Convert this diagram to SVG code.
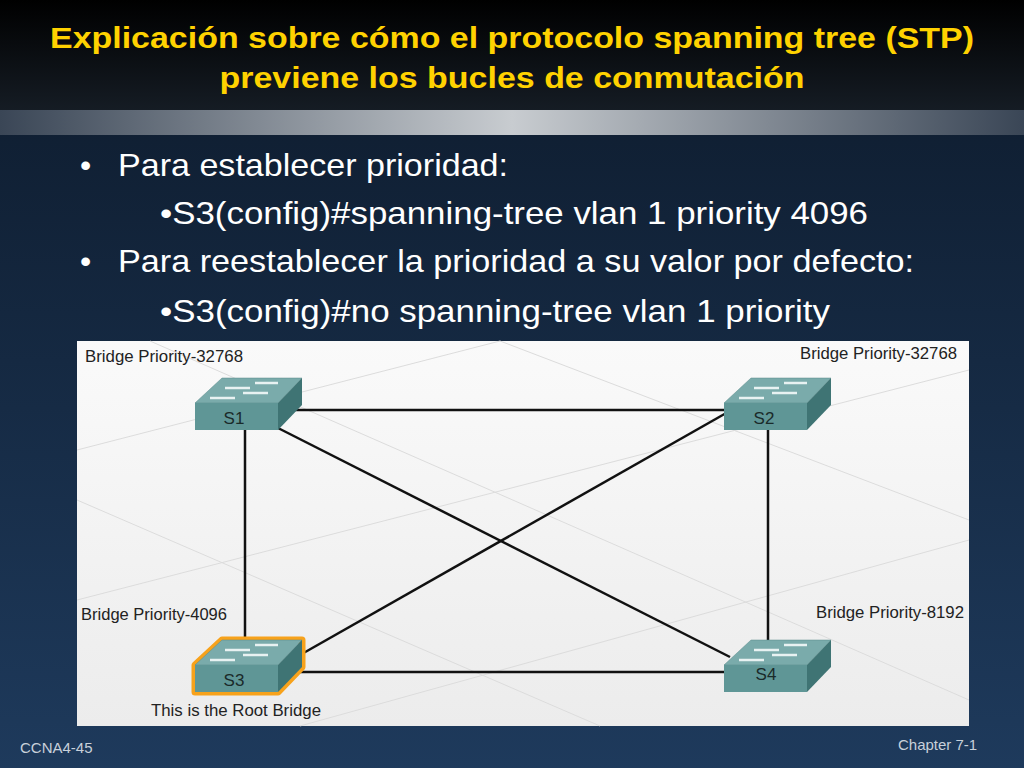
<svg xmlns="http://www.w3.org/2000/svg" width="1024" height="768" viewBox="0 0 1024 768">
<defs>
<linearGradient id="bg" x1="0" y1="0" x2="0" y2="1"><stop offset="0" stop-color="#0d1a2b"/><stop offset="1" stop-color="#1e3a5c"/></linearGradient>
<linearGradient id="hd" x1="0" y1="0" x2="0" y2="1"><stop offset="0" stop-color="#000"/><stop offset="1" stop-color="#151c24"/></linearGradient>
<linearGradient id="bar" x1="0" y1="0" x2="1" y2="0"><stop offset="0" stop-color="#3a4656"/><stop offset="0.5" stop-color="#c8ccd0"/><stop offset="1" stop-color="#3a4656"/></linearGradient>
<linearGradient id="panel" x1="0" y1="0" x2="0" y2="1"><stop offset="0" stop-color="#fafafa"/><stop offset="1" stop-color="#ececec"/></linearGradient>
<g id="sw">
<path d="M0,25 L27,0 L107,0 L83,25 Z" fill="#7aabab" stroke="#5a8a8a" stroke-width="0.5"/>
<path d="M83,25 L107,0 L107,27 L83,52 Z" fill="#3f7474"/>
<rect x="0" y="25" width="83" height="27" fill="#5f9696"/>
<g stroke="#e8f2f2" stroke-width="2.5">
<line x1="60" y1="5" x2="83" y2="5"/><line x1="30" y1="10" x2="55" y2="10"/>
<line x1="48" y1="15" x2="73" y2="15"/><line x1="15" y1="20" x2="40" y2="20"/>
</g>
</g>
</defs>
<style>
.t{font-family:"Liberation Sans",Arial,sans-serif}
.h{font-size:30px;font-weight:bold;fill:#ffd200;text-anchor:middle}
.b{font-size:32px;fill:#fff}
.l{font-size:16px;fill:#222}
.s{font-size:17px;fill:#1a2a2a;text-anchor:middle}
.f{font-size:15px;fill:#c8d0da}
.c{stroke:#111;stroke-width:2.5;fill:none}
</style>
<rect width="1024" height="768" fill="url(#bg)"/>
<rect width="1024" height="110" fill="url(#hd)"/>
<rect y="110" width="1024" height="25" fill="url(#bar)"/>
<text class="t h" x="512" y="48" textLength="924" lengthAdjust="spacingAndGlyphs">Explicación sobre cómo el protocolo spanning tree (STP)</text>
<text class="t h" x="512" y="88" textLength="585" lengthAdjust="spacingAndGlyphs">previene los bucles de conmutación</text>
<g class="t b">
<text x="80" y="176">•</text><text x="118" y="176" textLength="390" lengthAdjust="spacingAndGlyphs">Para establecer prioridad:</text>
<text x="160" y="224" textLength="708" lengthAdjust="spacingAndGlyphs">•S3(config)#spanning-tree vlan 1 priority 4096</text>
<text x="80" y="272">•</text><text x="118" y="272" textLength="796" lengthAdjust="spacingAndGlyphs">Para reestablecer la prioridad a su valor por defecto:</text>
<text x="160" y="322" textLength="670" lengthAdjust="spacingAndGlyphs">•S3(config)#no spanning-tree vlan 1 priority</text>
</g>
<rect x="77" y="341" width="892" height="385" fill="url(#panel)"/>
<g stroke="#dcdcdc" stroke-width="1" fill="none">
<line x1="77" y1="450" x2="500" y2="341"/><line x1="77" y1="600" x2="969" y2="370"/>
<line x1="300" y1="726" x2="969" y2="540"/><line x1="150" y1="341" x2="969" y2="700"/>
<line x1="77" y1="500" x2="600" y2="726"/><line x1="500" y1="341" x2="969" y2="520"/>
</g>
<g id="connectors">
<line class="c" x1="278" y1="410" x2="724" y2="410"/>
<line class="c" x1="245" y1="430" x2="245" y2="645"/>
<line class="c" x1="768" y1="430" x2="768" y2="645"/>
<line class="c" x1="278" y1="672" x2="724" y2="672"/>
<line class="c" x1="278" y1="428" x2="730" y2="657"/>
<line class="c" x1="728" y1="412" x2="300" y2="655"/>
</g>
<g id="S1"><use href="#sw" x="195" y="378"/><text class="t s" x="234" y="424">S1</text><text class="t l" x="85" y="362" textLength="158" lengthAdjust="spacingAndGlyphs">Bridge Priority-32768</text></g>
<g id="S2"><use href="#sw" x="724" y="378"/><text class="t s" x="764" y="424">S2</text><text class="t l" x="800" y="359" textLength="157" lengthAdjust="spacingAndGlyphs">Bridge Priority-32768</text></g>
<g id="S3"><path d="M195,665 L222,640 L302,640 L302,667 L278,692 L195,692 Z" fill="none" stroke="#f7a21b" stroke-width="7" stroke-linejoin="round"/><use href="#sw" x="195" y="640"/><text class="t s" x="234" y="686">S3</text><text class="t l" x="81" y="620" textLength="146" lengthAdjust="spacingAndGlyphs">Bridge Priority-4096</text><text class="t l" x="151" y="716" textLength="170" lengthAdjust="spacingAndGlyphs">This is the Root Bridge</text></g>
<g id="S4"><use href="#sw" x="724" y="640"/><text class="t s" x="766" y="680">S4</text><text class="t l" x="816" y="618" textLength="148" lengthAdjust="spacingAndGlyphs">Bridge Priority-8192</text></g>
<text class="t f" x="20" y="753">CCNA4-45</text>
<text class="t f" x="898" y="750">Chapter 7-1</text>
</svg>
